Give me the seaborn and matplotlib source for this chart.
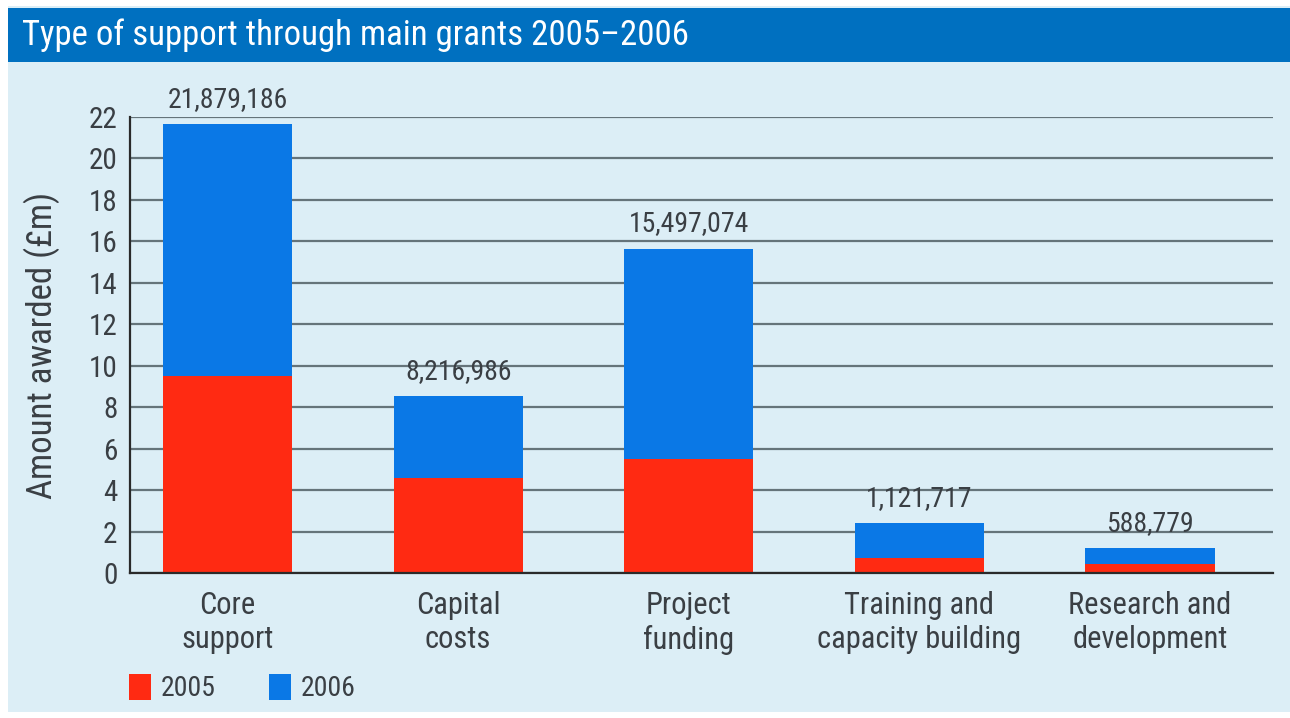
import matplotlib
matplotlib.use("Agg")
import matplotlib.pyplot as plt
from matplotlib import font_manager
from matplotlib.patches import Rectangle, Patch
import seaborn as sns
import numpy as np

categories = ["Core\nsupport", "Capital\ncosts", "Project\nfunding",
              "Training and\ncapacity building", "Research and\ndevelopment"]
values_2005 = [9.5, 4.6, 5.5, 0.7, 0.45]
values_2006 = [12.15, 3.95, 10.15, 1.7, 0.75]
bar_labels = ["21,879,186", "8,216,986", "15,497,074", "1,121,717", "588,779"]
yticks = [0, 2, 4, 6, 8, 10, 12, 14, 16, 18, 20, 22]
title = "Type of support through main grants 2005\u20132006"
ylabel = "Amount awarded (\u00a3m)"

names = {f.name for f in font_manager.fontManager.ttflist}
fam = "Open Sans"
for cand in ["Liberation Sans Narrow", "Roboto Condensed", "Open Sans Condensed",
             "Noto Sans Condensed", "Noto Sans Display"]:
    if cand in names:
        fam = cand
        break
else:
    if "Roboto" in names:
        fam = "Roboto"

sns.set_theme(style="white")
plt.rcParams['font.family'] = [fam, 'DejaVu Sans']

RED = "#FF2A12"
BLUE = "#0A78E6"
TXT = "#3A3F44"
BG = "#DCEEF6"

W, H = 1290, 718
fig = plt.figure(figsize=(W/100, H/100), dpi=100, facecolor="white")
fig.patches.append(Rectangle((8/W, 6/H), 1 - 8/W, 1 - 12/H, transform=fig.transFigure,
                             facecolor=BG, edgecolor="none", zorder=-10))
fig.patches.append(Rectangle((8/W, 1 - 62/H), 1 - 8/W, 54/H, transform=fig.transFigure,
                             facecolor="#0070C0", edgecolor="none", zorder=-5))
fig.text(22/W, 1 - 35/H, title, color="white", fontsize=25, va="center", ha="left")

ax = fig.add_axes([130/W, 1 - 573/H, (1273 - 130)/W, (573 - 117)/H])
ax.set_facecolor("none")

totals = [a + b for a, b in zip(values_2005, values_2006)]
sns.barplot(x=categories, y=totals, color=BLUE, width=0.56, ax=ax, saturation=1,
            linewidth=0, zorder=3)
sns.barplot(x=categories, y=values_2005, color=RED, width=0.56, ax=ax, saturation=1,
            linewidth=0, zorder=3)

for i, (t, lab) in enumerate(zip(totals, bar_labels)):
    ax.annotate(lab, (i, t), xytext=(0, 8), textcoords="offset points",
                ha="center", va="bottom", fontsize=20, color=TXT)

ax.set_ylim(0, 22)
ax.set_xlim(-0.423, 4.533)
ax.set_yticks(yticks)
ax.set_yticklabels([str(v) for v in yticks], fontsize=21, color=TXT)
ax.tick_params(axis="x", labelsize=22, colors=TXT, length=0, pad=13)
ax.tick_params(axis="y", length=0, pad=9)
for lab in ax.get_xticklabels():
    lab.set_color(TXT)
    lab.set_linespacing(1.2)
ax.yaxis.grid(True, color="#65747a", linewidth=1.6, zorder=0)
ax.set_axisbelow(True)
for s in ["top", "right"]:
    ax.spines[s].set_visible(False)
for s in ["left", "bottom"]:
    ax.spines[s].set_color("#2a2a2a")
    ax.spines[s].set_linewidth(1.6)
    ax.spines[s].set_zorder(4)
ax.set_ylabel(ylabel, fontsize=25, color=TXT, labelpad=21)
ax.set_xlabel("")

handles = [Patch(facecolor=RED, edgecolor="none"), Patch(facecolor=BLUE, edgecolor="none")]
leg = fig.legend(handles, ["2005", "2006"], loc="center left", bbox_to_anchor=(104/W, 1 - 688/H),
                 ncol=2, frameon=False, fontsize=20, handlelength=0.8, handleheight=1.05,
                 handletextpad=0.35, columnspacing=1.9)
for t in leg.get_texts():
    t.set_color(TXT)

fig.savefig("out.png", dpi=100, facecolor="white")
